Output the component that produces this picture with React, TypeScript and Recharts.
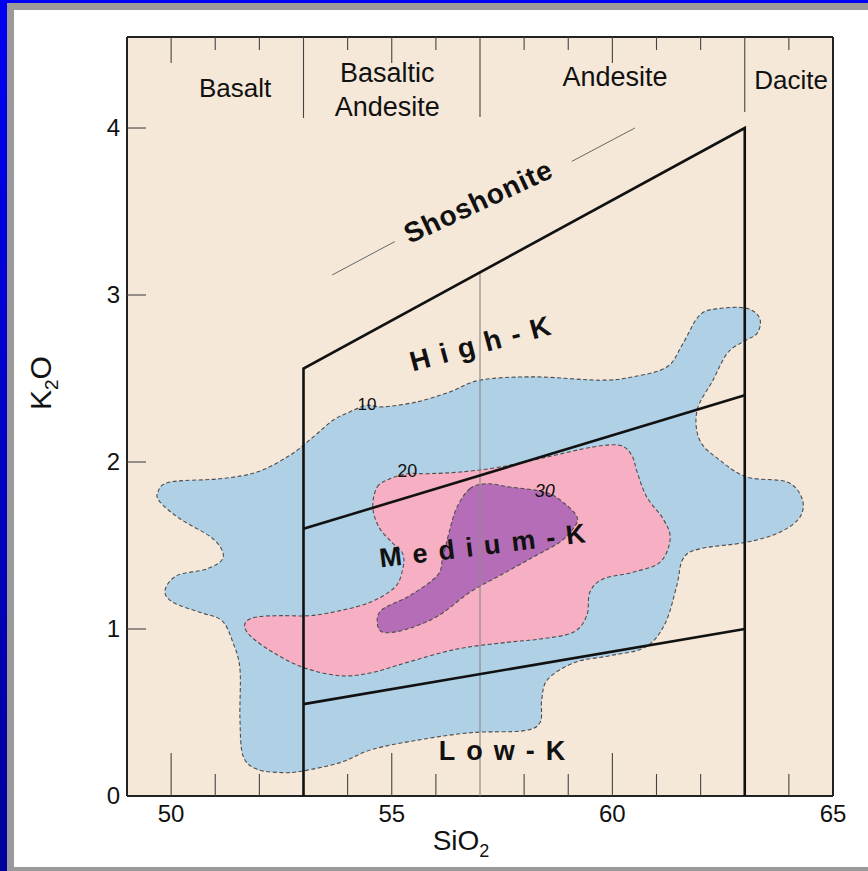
import React from 'react';
import { ComposedChart, Line, XAxis, YAxis, CartesianGrid } from 'recharts';

const FONT = '"Liberation Sans", Arial, Helvetica, sans-serif';

const xTicks = [49, 50, 51, 52, 53, 54, 55, 56, 57, 58, 59, 60, 61, 62, 63, 64, 65];
const yTicks = [0, 1, 2, 3, 4];

// density contours (percent of samples)
const contour10 = [
  { x: 49.7, y: 1.82 }, { x: 49.97, y: 1.88 }, { x: 51.11, y: 1.9 }, { x: 51.95, y: 1.94 },
  { x: 52.69, y: 2.04 }, { x: 53.22, y: 2.15 }, { x: 53.67, y: 2.25 }, { x: 54.05, y: 2.3 },
  { x: 54.44, y: 2.34 }, { x: 54.8, y: 2.33 }, { x: 55.57, y: 2.36 }, { x: 56.32, y: 2.42 },
  { x: 57.0, y: 2.49 }, { x: 58.2, y: 2.51 }, { x: 59.72, y: 2.49 }, { x: 60.47, y: 2.51 },
  { x: 61.24, y: 2.57 }, { x: 61.6, y: 2.71 }, { x: 61.98, y: 2.88 }, { x: 62.44, y: 2.92 },
  { x: 63.05, y: 2.92 }, { x: 63.34, y: 2.86 }, { x: 63.28, y: 2.77 }, { x: 62.96, y: 2.72 },
  { x: 62.6, y: 2.65 }, { x: 62.28, y: 2.49 }, { x: 61.92, y: 2.31 }, { x: 61.98, y: 2.13 },
  { x: 62.44, y: 2.01 }, { x: 63.05, y: 1.91 }, { x: 63.96, y: 1.88 }, { x: 64.3, y: 1.78 },
  { x: 64.25, y: 1.67 }, { x: 63.8, y: 1.58 }, { x: 63.05, y: 1.52 }, { x: 61.98, y: 1.48 },
  { x: 61.6, y: 1.42 }, { x: 61.46, y: 1.26 }, { x: 61.19, y: 1.03 }, { x: 60.74, y: 0.89 },
  { x: 59.94, y: 0.84 }, { x: 59.15, y: 0.8 }, { x: 58.54, y: 0.7 }, { x: 58.4, y: 0.58 },
  { x: 58.36, y: 0.44 }, { x: 57.97, y: 0.39 }, { x: 56.84, y: 0.38 }, { x: 55.71, y: 0.34 },
  { x: 54.57, y: 0.28 }, { x: 53.83, y: 0.2 }, { x: 52.99, y: 0.15 }, { x: 52.53, y: 0.14 },
  { x: 51.95, y: 0.16 }, { x: 51.63, y: 0.24 }, { x: 51.56, y: 0.46 }, { x: 51.56, y: 0.76 },
  { x: 51.4, y: 0.92 }, { x: 51.15, y: 1.05 }, { x: 50.65, y: 1.1 }, { x: 50.04, y: 1.16 },
  { x: 49.86, y: 1.23 }, { x: 50.13, y: 1.32 }, { x: 50.81, y: 1.36 }, { x: 51.18, y: 1.43 },
  { x: 50.95, y: 1.54 }, { x: 50.2, y: 1.66 }, { x: 49.75, y: 1.76 },
];

const contour20 = [
  { x: 54.67, y: 1.85 }, { x: 54.96, y: 1.9 }, { x: 55.35, y: 1.93 }, { x: 55.8, y: 1.93 },
  { x: 56.55, y: 1.94 }, { x: 57.45, y: 1.97 }, { x: 58.52, y: 2.03 }, { x: 59.56, y: 2.09 },
  { x: 60.17, y: 2.1 }, { x: 60.44, y: 2.04 }, { x: 60.56, y: 1.94 }, { x: 60.78, y: 1.79 },
  { x: 61.15, y: 1.66 }, { x: 61.31, y: 1.54 }, { x: 61.08, y: 1.4 }, { x: 60.47, y: 1.34 },
  { x: 59.79, y: 1.3 }, { x: 59.49, y: 1.22 }, { x: 59.42, y: 1.08 }, { x: 59.11, y: 0.98 },
  { x: 58.36, y: 0.94 }, { x: 57.61, y: 0.92 }, { x: 56.48, y: 0.88 }, { x: 55.35, y: 0.8 },
  { x: 54.57, y: 0.74 }, { x: 53.83, y: 0.72 }, { x: 52.99, y: 0.77 }, { x: 52.31, y: 0.86 },
  { x: 51.79, y: 0.96 }, { x: 51.67, y: 1.03 }, { x: 51.9, y: 1.07 }, { x: 52.47, y: 1.08 },
  { x: 53.15, y: 1.08 }, { x: 53.83, y: 1.11 }, { x: 54.51, y: 1.16 }, { x: 55.07, y: 1.25 },
  { x: 55.25, y: 1.36 }, { x: 55.25, y: 1.45 }, { x: 55.0, y: 1.52 }, { x: 54.71, y: 1.61 },
  { x: 54.57, y: 1.73 },
];

const contour30 = [
  { x: 56.77, y: 1.84 }, { x: 57.16, y: 1.87 }, { x: 57.68, y: 1.85 }, { x: 58.47, y: 1.82 },
  { x: 58.88, y: 1.76 }, { x: 59.2, y: 1.67 }, { x: 59.11, y: 1.6 }, { x: 58.81, y: 1.52 },
  { x: 58.2, y: 1.43 }, { x: 57.45, y: 1.32 }, { x: 56.77, y: 1.22 }, { x: 56.06, y: 1.08 },
  { x: 55.35, y: 1.0 }, { x: 54.8, y: 0.98 }, { x: 54.67, y: 1.05 }, { x: 54.8, y: 1.12 },
  { x: 55.41, y: 1.2 }, { x: 56.03, y: 1.32 }, { x: 56.16, y: 1.43 }, { x: 56.32, y: 1.6 },
  { x: 56.48, y: 1.73 },
];

// field boundaries
const shoshoniteBoundary = [{ x: 53, y: 0 }, { x: 53, y: 2.56 }, { x: 63, y: 4.0 }, { x: 63, y: 0 }];
const highMediumBoundary = [{ x: 53, y: 1.6 }, { x: 63, y: 2.4 }];
const mediumLowBoundary = [{ x: 53, y: 0.55 }, { x: 63, y: 1.0 }];
const andesiteDivide = [{ x: 57, y: 3.13 }, { x: 57, y: 0 }];
const shoshoniteDashA = [{ x: 53.65, y: 3.12 }, { x: 55.07, y: 3.32 }];
const shoshoniteDashB = [{ x: 59.08, y: 3.8 }, { x: 60.51, y: 4.0 }];

const rockNames = [
  { x: 51.45, y: 4.24, text: 'Basalt' },
  { x: 54.9, y: 4.23, text: 'Basaltic\nAndesite' },
  { x: 60.06, y: 4.31, text: 'Andesite' },
  { x: 64.05, y: 4.29, text: 'Dacite' },
];
const seriesNames = [
  { x: 56.95, y: 3.56, text: 'Shoshonite' },
  { x: 57.0, y: 2.71, text: 'High-K' },
  { x: 57.05, y: 1.5, text: 'Medium-K' },
  { x: 57.5, y: 0.27, text: 'Low-K' },
];
const contourLabels = [
  { x: 54.44, y: 2.35, text: '10' },
  { x: 55.35, y: 1.95, text: '20' },
  { x: 58.47, y: 1.83, text: '30' },
];

const TEXT_STYLE: Record<string, { size: number; bold?: boolean; italic?: boolean; angle?: number; spacing?: number }> = {
  Basalt: { size: 26 },
  'Basaltic\nAndesite': { size: 27 },
  Andesite: { size: 27 },
  Dacite: { size: 26 },
  Shoshonite: { size: 28, bold: true, angle: -25, spacing: 0.8 },
  'High-K': { size: 28, bold: true, angle: -15, spacing: 10.5 },
  'Medium-K': { size: 27, bold: true, angle: -7, spacing: 11 },
  'Low-K': { size: 27, bold: true, spacing: 11 },
  '10': { size: 17 },
  '20': { size: 18 },
  '30': { size: 18, italic: true },
};

type Pt = { x: number; y: number };

// closed catmull-rom path through the scaled points
function closedPath(pts: Pt[]) {
  const n = pts.length;
  let d = `M${pts[0].x},${pts[0].y}`;
  for (let i = 0; i < n; i++) {
    const p0 = pts[(i - 1 + n) % n];
    const p1 = pts[i];
    const p2 = pts[(i + 1) % n];
    const p3 = pts[(i + 2) % n];
    const c1x = p1.x + (p2.x - p0.x) / 6;
    const c1y = p1.y + (p2.y - p0.y) / 6;
    const c2x = p2.x - (p3.x - p1.x) / 6;
    const c2y = p2.y - (p3.y - p1.y) / 6;
    d += ` C${c1x},${c1y} ${c2x},${c2y} ${p2.x},${p2.y}`;
  }
  return d + 'Z';
}

const blob = (fill: string) => (p: any) =>
  p.index === 0 ? (
    <path key="blob" d={closedPath(p.points)} fill={fill} stroke="#4d4d4d" strokeWidth={1.1} strokeDasharray="4 2.5" />
  ) : (
    <g key={`b${p.index}`} />
  );

const polyline = (stroke: string, width: number) => (p: any) =>
  p.index === 0 ? (
    <path
      key="pl"
      d={p.points.map((q: Pt, i: number) => `${i ? 'L' : 'M'}${q.x},${q.y}`).join(' ')}
      fill="none"
      stroke={stroke}
      strokeWidth={width}
      strokeLinejoin="miter"
    />
  ) : (
    <g key={`p${p.index}`} />
  );

const annotation = (p: any) => {
  const text: string = p.payload.text;
  const s = TEXT_STYLE[text] || { size: 16 };
  const lines = text.split('\n');
  const sp = s.spacing || 0;
  return (
    <text
      key={`t${p.index}`}
      transform={s.angle ? `rotate(${s.angle} ${p.cx} ${p.cy})` : undefined}
      x={p.cx + sp / 2}
      y={p.cy}
      textAnchor="middle"
      fontFamily={FONT}
      fontSize={s.size}
      fontWeight={s.bold ? 'bold' : 'normal'}
      fontStyle={s.italic ? 'italic' : 'normal'}
      letterSpacing={sp}
      fill="#111"
    >
      {lines.length === 1 ? (
        <tspan dy="0.35em">{text}</tspan>
      ) : (
        lines.map((l, i) => (
          <tspan key={l} x={p.cx} y={p.cy + (i - (lines.length - 1) / 2) * 34} dy="0.35em">
            {l}
          </tspan>
        ))
      )}
    </text>
  );
};

// bottom axis ticks also carry the matching tick marks along the top frame
const TOP_LEN: Record<number, number> = { 49: 0, 50: 26, 53: 81, 55: 26, 57: 80, 60: 26, 63: 75, 65: 0 };

const BottomTick = (props: any) => {
  const { x, payload } = props;
  const v = payload.value as number;
  const len = [50, 55, 60].includes(v) ? 43 : [49, 53, 57, 63, 65].includes(v) ? 0 : 22;
  const topLen = TOP_LEN[v] ?? 13;
  return (
    <g>
      {len > 0 && <line x1={x} x2={x} y1={796} y2={796 - len} stroke="#444" strokeWidth={1.1} />}
      {topLen > 0 && <line x1={x} x2={x} y1={37} y2={37 + topLen} stroke="#444" strokeWidth={1.1} />}
      {v % 5 === 0 && (
        <text x={x} y={805} dy="0.71em" textAnchor="middle" fontFamily={FONT} fontSize={24} fill="#111">
          {v}
        </text>
      )}
    </g>
  );
};

const LeftTick = (props: any) => {
  const { y, payload } = props;
  return (
    <g>
      {payload.value > 0 && <line x1={127} x2={146} y1={y} y2={y} stroke="#444" strokeWidth={1.1} />}
      <text x={120} y={y} dy="0.35em" textAnchor="end" fontFamily={FONT} fontSize={24} fill="#111">
        {payload.value}
      </text>
    </g>
  );
};

const SiLabel = () => (
  <text x={461} y={850} textAnchor="middle" fontFamily={FONT} fontSize={28} fill="#111">
    SiO<tspan fontSize={18} dy={7}>2</tspan>
  </text>
);

const KLabel = () => (
  <text transform="translate(41,383) rotate(-90)" x={0} y={10} textAnchor="middle" fontFamily={FONT} fontSize={30} fill="#111">
    K<tspan fontSize={19} dy={7}>2</tspan><tspan dy={-7}>O</tspan>
  </text>
);

const AXIS_COLOR = '#222';

export default function App() {
  const common = { dataKey: 'y', stroke: 'none', isAnimationActive: false, activeDot: false, legendType: 'none' as const };
  return (
    <div style={{ position: 'fixed', left: 0, top: 0, width: 868, height: 871, background: 'linear-gradient(#0000f2, #00009a)' }}>
      <div style={{ position: 'absolute', left: 7, top: 3, right: 0, bottom: 0, background: '#9a9a9a' }} />
      <div style={{ position: 'absolute', left: 14, top: 10, right: 0, bottom: 4, background: '#ffffff' }} />
      <div style={{ position: 'absolute', left: 0, top: 0 }}>
        <ComposedChart width={868} height={871} margin={{ top: 36, right: 34, bottom: 74, left: 126 }}>
          <CartesianGrid fill="#f6e8d8" fillOpacity={1} stroke="none" />
          <XAxis
            type="number"
            dataKey="x"
            domain={[49, 65]}
            ticks={xTicks}
            interval={0}
            height={1}
            tickSize={0}
            tickMargin={0}
            tickLine={false}
            tick={<BottomTick />}
            axisLine={{ stroke: AXIS_COLOR, strokeWidth: 2 }}
            label={<SiLabel />}
          />
          <XAxis
            xAxisId="top"
            orientation="top"
            type="number"
            dataKey="x"
            domain={[49, 65]}
            height={1}
            tick={false}
            tickLine={false}
            axisLine={{ stroke: AXIS_COLOR, strokeWidth: 2 }}
          />
          <YAxis
            type="number"
            domain={[0, 4.545]}
            ticks={yTicks}
            interval={0}
            width={1}
            tickSize={0}
            tickMargin={0}
            tickLine={false}
            tick={<LeftTick />}
            axisLine={{ stroke: AXIS_COLOR, strokeWidth: 2 }}
            label={<KLabel />}
          />
          <YAxis
            yAxisId="right"
            orientation="right"
            type="number"
            domain={[0, 4.545]}
            width={1}
            tick={false}
            tickLine={false}
            axisLine={{ stroke: AXIS_COLOR, strokeWidth: 2 }}
          />

          <Line {...common} data={contour10} dot={blob('#b0d0e6')} />
          <Line {...common} data={contour20} dot={blob('#f7b0c3')} />
          <Line {...common} data={contour30} dot={blob('#b46db6')} />

          <Line {...common} data={andesiteDivide} dot={polyline('#8c8c8c', 1.2)} />
          <Line {...common} data={shoshoniteDashA} dot={polyline('#666', 1)} />
          <Line {...common} data={shoshoniteDashB} dot={polyline('#666', 1)} />
          <Line {...common} data={shoshoniteBoundary} dot={polyline('#111', 2.6)} />
          <Line {...common} data={highMediumBoundary} dot={polyline('#111', 2.6)} />
          <Line {...common} data={mediumLowBoundary} dot={polyline('#111', 2.6)} />

          <Line {...common} data={rockNames} dot={annotation} />
          <Line {...common} data={seriesNames} dot={annotation} />
          <Line {...common} data={contourLabels} dot={annotation} />
        </ComposedChart>
      </div>
    </div>
  );
}
